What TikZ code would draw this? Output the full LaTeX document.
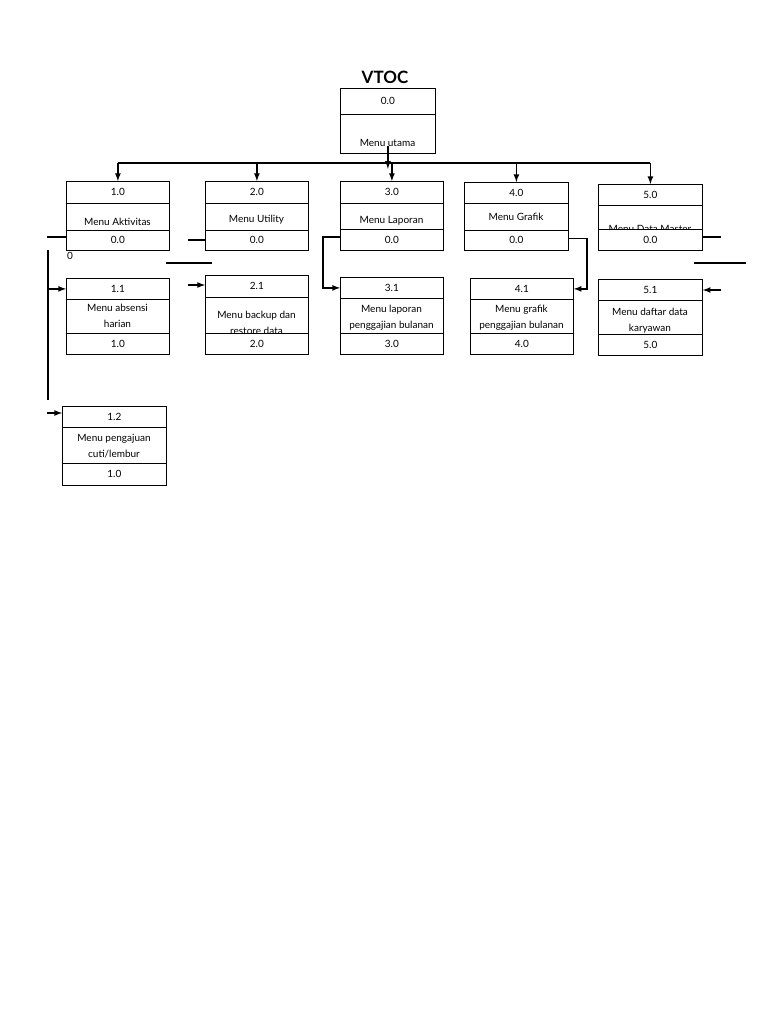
\documentclass[tikz,border=0pt]{standalone}
\usepackage{fontspec}
\setmainfont{Lato}
\usetikzlibrary{arrows}

\begin{document}
\begin{tikzpicture}[x=1pt,y=-1pt,
    sel/.style={draw, line width=0.8pt, inner sep=0pt, anchor=north west, font=\fontsize{10}{15}\selectfont},
    teks/.style={align=center, inner sep=0pt, font=\fontsize{10}{16}\selectfont},
    garis/.style={line width=1.6pt},
    panah/.style={line width=1.6pt, -latex}]

\useasboundingbox (0,0) rectangle (768,1024);
\fill[white] (0,0) rectangle (768,1024);

\node[inner sep=0pt, font=\bfseries\fontsize{17}{20}\selectfont] (judul) at (385,77) {VTOC};
\node[teks] (m00-t) at (387.5,143) {Menu utama};
\node[sel, minimum width=95, minimum height=26] (m00-a) at (340,88) {0.0};
\node[sel, minimum width=95, minimum height=39] (m00-b) at (340,114) {};

\foreach \nm/\x/\w/\ya/\yb/\yc/\yd/\ty/\tA/\tB/\tC in {
    b10/66/103/181/203/230/250/222/1.0/{Menu Aktivitas}/0.0,
    b20/205/103/181/203/230/250/220/2.0/{Menu Utility}/0.0,
    b30/340/103/181/203/229/250/221/3.0/{Menu Laporan}/0.0,
    b40/464/104/182/203/230/250/217/4.0/{Menu Grafik}/0.0,
    b50/598/104/184/205/229/250/229/5.0/{Menu Data Master}/0.0,
    b11/66/103/278/299/333/354/316/1.1/{Menu absensi\\harian}/1.0,
    b21/205/103/275/297/333/354/323/2.1/{Menu backup dan\\restore data}/2.0,
    b31/340/103/277/298/333/354/318/3.1/{Menu laporan\\penggajian bulanan}/3.0,
    b41/470/103/278/299/333/354/318/4.1/{Menu grafik\\penggajian bulanan}/4.0,
    b51/598/104/279/300/334/355/321/5.1/{Menu daftar data\\karyawan}/5.0,
    b12/62/104/406/427/463/485/446/1.2/{Menu pengajuan\\cuti/lembur}/1.0}
{
    \node[sel, minimum width=\w, minimum height={\yb-\ya}] (\nm-a) at (\x,\ya) {\tA};
    \node[teks] (\nm-t) at ({\x+\w/2},\ty) {\tB};
    \node[sel, minimum width=\w, minimum height={\yc-\yb}] (\nm-b) at (\x,\yb) {};
    \node[sel, fill=white, minimum width=\w, minimum height={\yd-\yc}] (\nm-c) at (\x,\yc) {\tC};
}

\coordinate (bus-a) at (118,163);
\coordinate (bus-b) at (650,163);
\draw[garis] (bus-a) -- (bus-b);
\draw[panah] ([yshift=8pt]m00-b.south) -- ++(0,23);
\foreach \b in {b10,b20,b30,b40,b50}
    \draw[panah] (\b-a.north |- bus-a) -- (\b-a.north);

\draw[panah] ([yshift=3pt]b30-c.west) -- ++(-17,0) |- (b31-a.west);
\draw[panah] ([yshift=2pt]b40-c.east) -- ++(18,0) |- (b41-a.east);

\coordinate (kiri-a) at (48,250);
\coordinate (kiri-b) at (48,400);
\coordinate (kiri-c) at (47,413);
\coordinate (kiri-d) at (47,237);
\coordinate (kiri-e) at (188,240);
\coordinate (kiri-f) at (188,285);
\coordinate (kanan-a) at (721,237);
\coordinate (kanan-b) at (721,290);
\coordinate (lepas-a) at (166,263);
\coordinate (lepas-b) at (212,263);
\coordinate (lepas-c) at (694,263);
\coordinate (lepas-d) at (746,263);

\draw[garis] (kiri-a) -- (kiri-b);
\draw[panah] (kiri-a |- b11-a.west) -- (b11-a.west);
\draw[panah] (kiri-c) -- (kiri-c -| b12-a.west);
\draw[garis] (kiri-d) -- (kiri-d -| b10-c.west);
\node[anchor=north west, inner sep=1pt, font=\fontsize{10}{12}\selectfont] (nol) at (b10-c.south west) {0};

\draw[garis] (kiri-e) -- (kiri-e -| b20-c.west);
\draw[panah] (kiri-f) -- (kiri-f -| b21-a.west);
\draw[garis] (lepas-a) -- (lepas-b);

\draw[garis] (kanan-a -| b50-c.east) -- (kanan-a);
\draw[panah] (kanan-b) -- (kanan-b -| b51-a.east);
\draw[garis] (lepas-c) -- (lepas-d);

\end{tikzpicture}
\end{document}
